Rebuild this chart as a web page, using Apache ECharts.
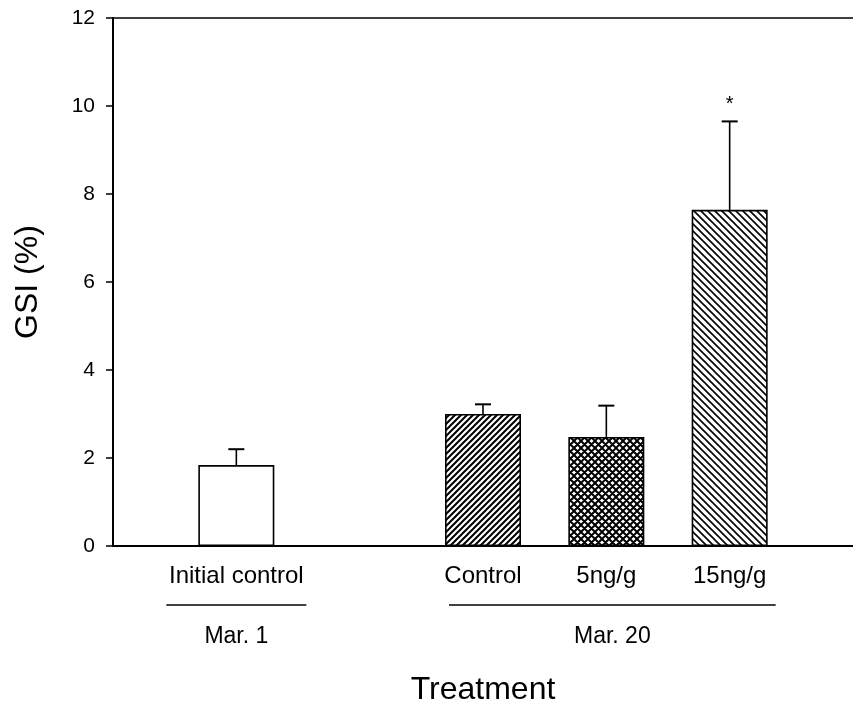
<!DOCTYPE html>
<html>
<head>
<meta charset="utf-8">
<script src="https://cdn.jsdelivr.net/npm/echarts@6/dist/echarts.min.js"></script>
<style>
html,body{margin:0;padding:0;background:#fff;overflow:hidden;}
#chart{position:absolute;left:0;top:0;width:853px;height:709px;}
</style>
</head>
<body>
<div id="chart"></div>
<script>
// ---- data ----
var categories = ['', 'Initial control', '', 'Control', '5ng/g', '15ng/g', ''];
var barIndex   = [1, 3, 4, 5];
var gsiMean    = [1.84, 3.0, 2.48, 7.64];
var gsiUpper   = [2.2, 3.22, 3.19, 9.65];
var significant = [false, false, false, true];
var yTicks = [0, 2, 4, 6, 8, 10, 12];
var groups = [
  { label: 'Mar. 1',  from: 1, to: 1 },
  { label: 'Mar. 20', from: 3, to: 5 }
];

var FONT = '"Liberation Sans", Arial, Helvetica, sans-serif';

function makePattern(size, kind, lw) {
  var c = document.createElement('canvas');
  c.width = size; c.height = size;
  var ctx = c.getContext('2d');
  ctx.fillStyle = '#fff';
  ctx.fillRect(0, 0, size, size);
  ctx.strokeStyle = '#000';
  ctx.lineWidth = lw;
  ctx.beginPath();
  if (kind === '/' || kind === 'x') {
    ctx.moveTo(0, size); ctx.lineTo(size, 0);
    ctx.moveTo(-2, 2); ctx.lineTo(2, -2);
    ctx.moveTo(size - 2, size + 2); ctx.lineTo(size + 2, size - 2);
  }
  if (kind === '\\' || kind === 'x') {
    ctx.moveTo(0, 0); ctx.lineTo(size, size);
    ctx.moveTo(-2, size - 2); ctx.lineTo(2, size + 2);
    ctx.moveTo(size - 2, -2); ctx.lineTo(size + 2, 2);
  }
  ctx.stroke();
  return c;
}

var fills = [
  '#ffffff',
  { image: makePattern(6, '/', 2), repeat: 'repeat' },
  { image: makePattern(7, 'x', 2), repeat: 'repeat' },
  { image: makePattern(7, '\\', 1.6), repeat: 'repeat' }
];

var barData = categories.map(function () { return null; });
barIndex.forEach(function (ci, i) {
  barData[ci] = { value: gsiMean[i], itemStyle: { color: fills[i] } };
});

var errData = barIndex.map(function (ci, i) {
  return [ci, gsiMean[i], gsiUpper[i], significant[i] ? 1 : 0];
});

var chart = echarts.init(document.getElementById('chart'), null, { renderer: 'canvas' });

var option = {
  animation: false,
  backgroundColor: '#fff',
  grid: { left: 113, right: 0, top: 18, bottom: 163, containLabel: false, outerBoundsMode: 'none' },
  xAxis: [{
    type: 'category',
    data: categories,
    boundaryGap: false,
    position: 'bottom',
    axisLine: { show: true, lineStyle: { color: '#000', width: 2 } },
    axisTick: { show: false },
    splitLine: { show: false },
    axisLabel: {
      interval: 0, margin: 18, color: '#000', fontSize: 24, fontFamily: FONT,
      formatter: function (v) { return v; }
    },
    name: 'Treatment',
    nameLocation: 'middle',
    nameGap: 128,
    nameTextStyle: { color: '#000', fontSize: 32, fontFamily: FONT }
  }, {
    type: 'category',
    data: categories,
    boundaryGap: false,
    position: 'top',
    axisLine: { show: true, lineStyle: { color: '#000', width: 1.6 } },
    axisTick: { show: false },
    axisLabel: { show: false }
  }],
  yAxis: {
    type: 'value',
    min: 0, max: 12, interval: 2,
    axisLine: { show: true, lineStyle: { color: '#000', width: 2 } },
    axisTick: { show: true, length: 7, lineStyle: { color: '#000', width: 1.5 } },
    splitLine: { show: false },
    axisLabel: {
      margin: 18, color: '#000', fontSize: 21, fontFamily: FONT,
      formatter: function (v) { return yTicks.indexOf(v) >= 0 ? String(v) : ''; }
    },
    name: 'GSI (%)',
    nameLocation: 'middle',
    nameGap: 69,
    nameTextStyle: { color: '#000', fontSize: 32, fontFamily: FONT }
  },
  series: [{
    type: 'bar',
    data: barData,
    barWidth: 76,
    itemStyle: { borderColor: '#000', borderWidth: 1.6 },
    z: 2
  }, {
    type: 'custom',
    data: errData,
    encode: { x: 0, y: [1, 2] },
    z: 3,
    renderItem: function (params, api) {
      var x = api.value(0);
      var p0 = api.coord([x, api.value(1)]);
      var p1 = api.coord([x, api.value(2)]);
      var children = [{
        type: 'line',
        shape: { x1: p0[0], y1: p0[1], x2: p1[0], y2: p1[1] },
        style: { stroke: '#000', lineWidth: 1.6 }
      }, {
        type: 'line',
        shape: { x1: p1[0] - 8, y1: p1[1], x2: p1[0] + 8, y2: p1[1] },
        style: { stroke: '#000', lineWidth: 2 }
      }];
      if (api.value(3) === 1) {
        children.push({
          type: 'text',
          style: {
            text: '*', x: p1[0], y: p1[1] - 17,
            fill: '#000', font: '20px ' + FONT,
            align: 'center', verticalAlign: 'middle'
          }
        });
      }
      return { type: 'group', children: children };
    }
  }]
};

chart.setOption(option);

// group annotations below category labels
var gfx = [];
groups.forEach(function (g) {
  var xa = chart.convertToPixel({ xAxisIndex: 0 }, g.from);
  var xb = chart.convertToPixel({ xAxisIndex: 0 }, g.to);
  var left = xa - (g.from === g.to ? 70 : 34);
  var right = xb + (g.from === g.to ? 70 : 46);
  var y0 = chart.convertToPixel({ yAxisIndex: 0 }, 0);
  gfx.push({
    type: 'line',
    shape: { x1: left, y1: y0 + 59, x2: right, y2: y0 + 59 },
    style: { stroke: '#000', lineWidth: 1.3 }
  });
  gfx.push({
    type: 'text',
    style: {
      text: g.label, x: (left + right) / 2, y: y0 + 91,
      fill: '#000', font: '23px ' + FONT,
      align: 'center', verticalAlign: 'middle'
    }
  });
});
chart.setOption({ graphic: gfx });
</script>
</body>
</html>
